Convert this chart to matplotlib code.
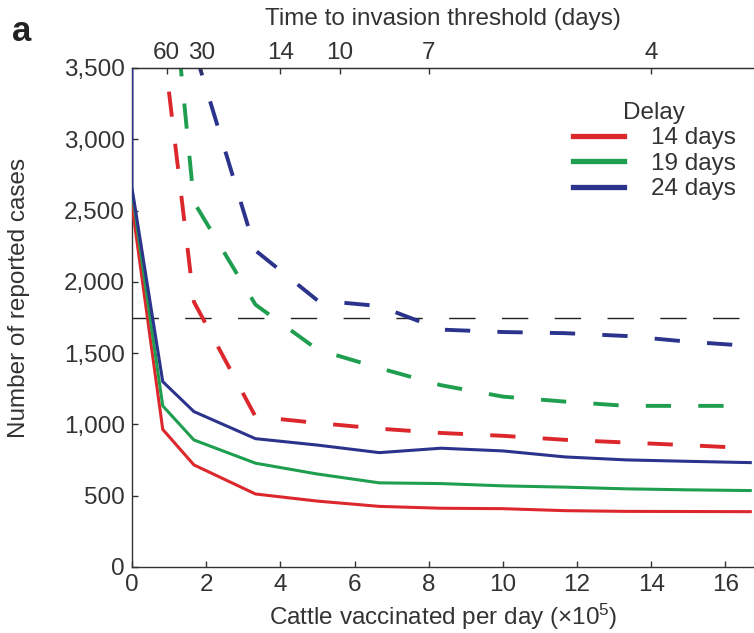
import matplotlib
matplotlib.use("Agg")
import matplotlib.pyplot as plt
from matplotlib.lines import Line2D
from matplotlib.ticker import FuncFormatter

plt.rcParams['font.family'] = ['Liberation Sans', 'DejaVu Sans']
plt.rcParams['mathtext.fontset'] = 'custom'
plt.rcParams['mathtext.rm'] = 'Liberation Sans'
plt.rcParams['mathtext.it'] = 'Liberation Sans:italic'

# Vaccination capacity (x 10^5 cattle per day)
capacity = [0, 0.83, 1.67, 3.33, 5.0, 6.67, 8.33, 10.0, 11.67, 13.33, 15.0, 16.67]
capacity_dash = capacity[1:]

# Reported cases, solid lines
cases_14 = [2540, 965, 716, 512, 462, 425, 412, 409, 395, 390, 389, 388]
cases_19 = [2640, 1130, 891, 728, 652, 590, 585, 569, 560, 548, 541, 536]
# the 24-day curve leaves the top of the axis at zero capacity
capacity_24 = [0] + capacity
cases_24 = [5000, 2660, 1300, 1090, 900, 855, 802, 833, 814, 772, 751, 741, 732]

# Reported cases, dashed lines
cases_14_dash = [3700, 1860, 1055, 1010, 970, 940, 920, 892, 873, 854, 833]
cases_19_dash = [4800, 2560, 1840, 1525, 1395, 1275, 1195, 1160, 1130, 1130, 1130]
cases_24_dash = [6000, 3640, 2220, 1870, 1830, 1665, 1648, 1640, 1620, 1580, 1550]

threshold = 1745

delay_labels = ['14 days', '19 days', '24 days']
colors = ['#dc282d', '#1f9e4f', '#2b338c']

# time to invasion threshold ticks (days), capacity = 56 / days
invasion_days = [60, 30, 14, 10, 7, 4]
invasion_const = 56.0

text_col = '#333333'

fig = plt.figure(figsize=(7.54, 6.33), dpi=100)
ax = fig.add_axes([0.175, 0.1043, 0.825, 0.7883])

ax.axhline(threshold, color='#222222', lw=1.0, dashes=(19, 19), zorder=1)

solid = [(capacity, cases_14), (capacity, cases_19), (capacity_24, cases_24)]
dashed = [cases_14_dash, cases_19_dash, cases_24_dash]
for (xs, ys), col in zip(solid, colors):
    ax.plot(xs, ys, color=col, lw=2.2, solid_joinstyle='round', zorder=3)
for ys, col in zip(dashed, colors):
    ax.plot(capacity_dash, ys, color=col, lw=2.8, dashes=(6.5, 7.0),
            dash_capstyle='butt', zorder=2)

ax.set_xlim(0, 16.77)
ax.set_ylim(0, 3500)
ax.set_xticks(range(0, 17, 2))
ax.set_yticks(range(0, 3501, 500))
ax.yaxis.set_major_formatter(FuncFormatter(lambda v, p: f'{int(v):,}'))

for side in ['left', 'bottom', 'top']:
    ax.spines[side].set_color(text_col)
    ax.spines[side].set_linewidth(1.0)
ax.spines['right'].set_visible(False)

ax.tick_params(direction='in', length=4.5, width=1.0, colors=text_col,
               labelsize=17.5, pad=5)
ax.set_xlabel('Cattle vaccinated per day (×10$^5$)', fontsize=17.5,
              color=text_col, labelpad=4)
ax.set_ylabel('Number of reported cases', fontsize=17.5, color=text_col)
ax.yaxis.set_label_coords(-0.164, 0.54)

top = ax.twiny()
top.set_xlim(ax.get_xlim())
top.set_xticks([invasion_const / d for d in invasion_days])
top.set_xticklabels([str(d) for d in invasion_days])
top.tick_params(direction='in', length=4.5, width=1.0, colors=text_col,
                labelsize=17.5, pad=3)
for side in ['left', 'bottom', 'right']:
    top.spines[side].set_visible(False)
top.spines['top'].set_color(text_col)
top.set_xlabel('Time to invasion threshold (days)', fontsize=17.5,
               color=text_col, labelpad=12)

handles = [Line2D([], [], color=c, lw=3.8) for c in colors]
leg = ax.legend(handles, delay_labels, title='Delay', loc='upper left',
                bbox_to_anchor=(573 / 754, 1 - 102 / 633),
                bbox_transform=fig.transFigure, frameon=False,
                fontsize=17.5, title_fontsize=17.5, handlelength=2.1,
                handletextpad=1.1, labelspacing=0.14, borderpad=0,
                borderaxespad=0)
for t in leg.get_texts():
    t.set_color(text_col)
leg.get_title().set_color(text_col)

fig.text(0.016, 0.935, 'a', fontsize=25, fontweight='bold', color='#222222')

fig.savefig('out.png', dpi=100)
